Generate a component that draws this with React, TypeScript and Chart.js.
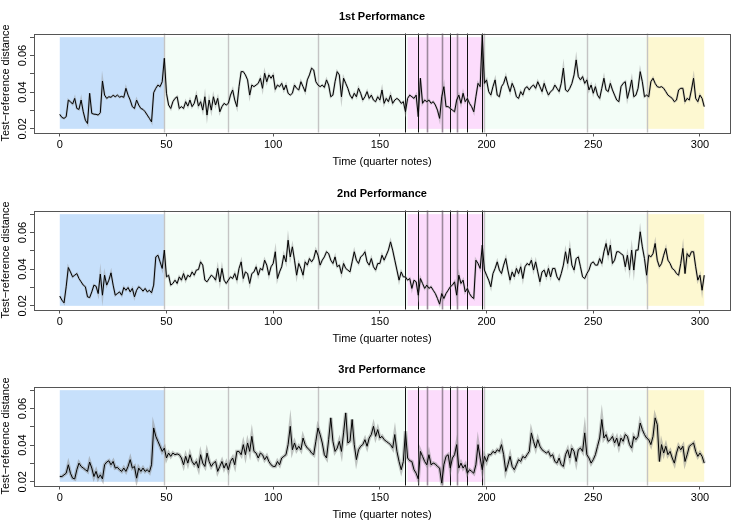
import React, { useEffect, useRef } from "react";
import { Chart, registerables } from "chart.js";

Chart.register(...registerables);

const TITLES = ["1st Performance", "2nd Performance", "3rd Performance"];
const X_LABEL = "Time (quarter notes)";
const Y_LABEL = "Test\u2212reference distance";
const X_TICKS = [0, 50, 100, 150, 200, 250, 300];
const Y_TICKS = [0.02, 0.03, 0.04, 0.05, 0.06, 0.07];
const Y_TICK_LABELS = ["0.02", "", "0.04", "", "0.06", ""];
const X_MIN = -12.08;
const X_MAX = 314.08;
const Y_MIN = 0.018;
const Y_MAX = 0.072;

// shaded sections (time in quarter notes)
const REGION_FROM = [0, 49, 163, 275];
const REGION_TO = [49, 275, 199, 302];
const REGION_COLORS = ["#c7e0fb", "#f3fdf7", "#fcdcfc", "#fdf8d1"];
const REGION_LOW = 0.02;
const REGION_HIGH = 0.07;
const SECTION_LINES = [49, 79, 121, 199, 247, 275];
const PHRASE_LINES_DARK = [162, 168, 183, 191, 198];
const PHRASE_LINES_MID = [172, 179, 186];

const perf1 = [
  0.0279, 0.0262, 0.0257, 0.0266, 0.0357, 0.0348, 0.0335, 0.0366, 0.0311, 0.0306,
  0.0357, 0.0293, 0.0247, 0.0229, 0.0394, 0.0284, 0.0280, 0.0279, 0.0275, 0.0288,
  0.0461, 0.0384, 0.0366, 0.0375, 0.0372, 0.0383, 0.0375, 0.0384, 0.0373, 0.0377,
  0.0372, 0.0421, 0.0384, 0.0357, 0.0321, 0.0311, 0.0357, 0.0330, 0.0311, 0.0306,
  0.0293, 0.0275, 0.0257, 0.0238, 0.0397, 0.0421, 0.0439, 0.0430, 0.0457, 0.0585,
  0.0394, 0.0330, 0.0311, 0.0348, 0.0366, 0.0375, 0.0311, 0.0321, 0.0311, 0.0348,
  0.0324, 0.0357, 0.0321, 0.0339, 0.0384, 0.0324, 0.0348, 0.0302, 0.0375, 0.0275,
  0.0357, 0.0302, 0.0375, 0.0330, 0.0366, 0.0293, 0.0321, 0.0339, 0.0330, 0.0339,
  0.0384, 0.0412, 0.0357, 0.0321, 0.0430, 0.0512, 0.0512, 0.0494, 0.0467, 0.0384,
  0.0439, 0.0430, 0.0439, 0.0448, 0.0476, 0.0421, 0.0503, 0.0457, 0.0494, 0.0476,
  0.0494, 0.0415, 0.0439, 0.0430, 0.0448, 0.0412, 0.0439, 0.0394, 0.0384, 0.0394,
  0.0439, 0.0421, 0.0412, 0.0457, 0.0430, 0.0403, 0.0467, 0.0494, 0.0531, 0.0521,
  0.0457, 0.0439, 0.0430, 0.0439, 0.0426, 0.0467, 0.0439, 0.0375, 0.0384, 0.0457,
  0.0512, 0.0494, 0.0375, 0.0476, 0.0448, 0.0421, 0.0384, 0.0366, 0.0394, 0.0375,
  0.0421, 0.0394, 0.0357, 0.0375, 0.0403, 0.0366, 0.0384, 0.0357, 0.0348, 0.0375,
  0.0357, 0.0412, 0.0339, 0.0366, 0.0348, 0.0384, 0.0339, 0.0357, 0.0366, 0.0357,
  0.0339, 0.0348, 0.0293, 0.0366, 0.0384, 0.0375, 0.0366, 0.0384, 0.0266, 0.0476,
  0.0339, 0.0357, 0.0348, 0.0357, 0.0339, 0.0348, 0.0330, 0.0302, 0.0257, 0.0375,
  0.0430, 0.0321, 0.0321, 0.0311, 0.0302, 0.0293, 0.0357, 0.0384, 0.0339, 0.0394,
  0.0348, 0.0366, 0.0339, 0.0321, 0.0293, 0.0375, 0.0448, 0.0430, 0.0712, 0.0448,
  0.0467, 0.0403, 0.0384, 0.0430, 0.0467, 0.0384, 0.0375, 0.0430, 0.0448, 0.0485,
  0.0439, 0.0403, 0.0448, 0.0421, 0.0375, 0.0366, 0.0403, 0.0384, 0.0421, 0.0430,
  0.0412, 0.0430, 0.0439, 0.0421, 0.0457, 0.0430, 0.0403, 0.0448, 0.0412, 0.0384,
  0.0403, 0.0412, 0.0439, 0.0421, 0.0403, 0.0448, 0.0531, 0.0412, 0.0403, 0.0421,
  0.0448, 0.0494, 0.0576, 0.0485, 0.0467, 0.0485, 0.0448, 0.0467, 0.0412, 0.0439,
  0.0394, 0.0430, 0.0384, 0.0366, 0.0421, 0.0476, 0.0412, 0.0403, 0.0448, 0.0412,
  0.0384, 0.0357, 0.0348, 0.0430, 0.0448, 0.0457, 0.0366, 0.0412, 0.0467, 0.0375,
  0.0384, 0.0421, 0.0512, 0.0457, 0.0375, 0.0384, 0.0375, 0.0457, 0.0476, 0.0448,
  0.0430, 0.0426, 0.0430, 0.0421, 0.0403, 0.0384, 0.0375, 0.0366, 0.0348, 0.0357,
  0.0412, 0.0421, 0.0421, 0.0348, 0.0366, 0.0357, 0.0412, 0.0476, 0.0366, 0.0348,
  0.0384, 0.0366, 0.0321,
];

const perf2 = [
  0.0253, 0.0231, 0.0216, 0.0304, 0.0409, 0.0385, 0.0358, 0.0367, 0.0376, 0.0349,
  0.0331, 0.0313, 0.0304, 0.0249, 0.0245, 0.0276, 0.0313, 0.0307, 0.0267, 0.0373,
  0.0258, 0.0367, 0.0313, 0.0340, 0.0380, 0.0313, 0.0258, 0.0267, 0.0276, 0.0258,
  0.0300, 0.0285, 0.0300, 0.0276, 0.0295, 0.0249, 0.0285, 0.0304, 0.0295, 0.0280,
  0.0295, 0.0276, 0.0285, 0.0271, 0.0313, 0.0467, 0.0476, 0.0440, 0.0404, 0.0504,
  0.0358, 0.0367, 0.0313, 0.0322, 0.0340, 0.0322, 0.0358, 0.0340, 0.0376, 0.0340,
  0.0367, 0.0358, 0.0385, 0.0367, 0.0395, 0.0398, 0.0440, 0.0422, 0.0340, 0.0331,
  0.0349, 0.0367, 0.0358, 0.0340, 0.0404, 0.0331, 0.0404, 0.0340, 0.0322, 0.0340,
  0.0358, 0.0349, 0.0376, 0.0340, 0.0404, 0.0440, 0.0349, 0.0385, 0.0376, 0.0322,
  0.0376, 0.0385, 0.0413, 0.0367, 0.0404, 0.0395, 0.0449, 0.0422, 0.0367, 0.0413,
  0.0431, 0.0495, 0.0349, 0.0385, 0.0413, 0.0476, 0.0440, 0.0558, 0.0467, 0.0522,
  0.0449, 0.0367, 0.0431, 0.0404, 0.0367, 0.0440, 0.0422, 0.0458, 0.0440, 0.0458,
  0.0504, 0.0476, 0.0422, 0.0449, 0.0467, 0.0495, 0.0485, 0.0449, 0.0431, 0.0467,
  0.0413, 0.0422, 0.0376, 0.0431, 0.0404, 0.0395, 0.0385, 0.0440, 0.0495, 0.0449,
  0.0431, 0.0467, 0.0476, 0.0495, 0.0440, 0.0422, 0.0458, 0.0413, 0.0395, 0.0431,
  0.0431, 0.0476, 0.0449, 0.0476, 0.0504, 0.0549, 0.0504, 0.0449, 0.0395, 0.0340,
  0.0385, 0.0358, 0.0358, 0.0340, 0.0349, 0.0295, 0.0340, 0.0331, 0.0258, 0.0349,
  0.0322, 0.0295, 0.0313, 0.0295, 0.0304, 0.0285, 0.0267, 0.0240, 0.0209, 0.0267,
  0.0240, 0.0267, 0.0285, 0.0304, 0.0313, 0.0331, 0.0258, 0.0367, 0.0322, 0.0340,
  0.0276, 0.0295, 0.0267, 0.0249, 0.0240, 0.0449, 0.0431, 0.0404, 0.0531, 0.0395,
  0.0367, 0.0340, 0.0304, 0.0376, 0.0404, 0.0440, 0.0395, 0.0376, 0.0422, 0.0458,
  0.0395, 0.0340, 0.0385, 0.0358, 0.0404, 0.0376, 0.0413, 0.0349, 0.0413, 0.0431,
  0.0422, 0.0449, 0.0395, 0.0440, 0.0385, 0.0331, 0.0385, 0.0395, 0.0358, 0.0404,
  0.0358, 0.0404, 0.0404, 0.0358, 0.0340, 0.0376, 0.0422, 0.0495, 0.0431, 0.0513,
  0.0422, 0.0395, 0.0458, 0.0467, 0.0413, 0.0358, 0.0349, 0.0376, 0.0395, 0.0431,
  0.0440, 0.0422, 0.0422, 0.0458, 0.0431, 0.0495, 0.0540, 0.0476, 0.0531, 0.0431,
  0.0449, 0.0495, 0.0495, 0.0485, 0.0476, 0.0413, 0.0476, 0.0395, 0.0504, 0.0395,
  0.0504, 0.0504, 0.0604, 0.0522, 0.0458, 0.0367, 0.0476, 0.0467, 0.0485, 0.0540,
  0.0449, 0.0413, 0.0431, 0.0476, 0.0513, 0.0449, 0.0431, 0.0404, 0.0395, 0.0376,
  0.0367, 0.0431, 0.0513, 0.0376, 0.0485, 0.0467, 0.0495, 0.0495, 0.0413, 0.0340,
  0.0367, 0.0285, 0.0367,
];

const perf3 = [
  0.0229, 0.0229, 0.0238, 0.0247, 0.0293, 0.0247, 0.0220, 0.0216, 0.0266, 0.0302,
  0.0284, 0.0275, 0.0266, 0.0257, 0.0308, 0.0275, 0.0229, 0.0257, 0.0220, 0.0238,
  0.0216, 0.0293, 0.0308, 0.0315, 0.0293, 0.0311, 0.0275, 0.0279, 0.0266, 0.0257,
  0.0275, 0.0257, 0.0284, 0.0321, 0.0275, 0.0284, 0.0220, 0.0275, 0.0257, 0.0275,
  0.0257, 0.0266, 0.0253, 0.0293, 0.0494, 0.0448, 0.0421, 0.0394, 0.0366, 0.0384,
  0.0330, 0.0357, 0.0339, 0.0357, 0.0348, 0.0352, 0.0348, 0.0330, 0.0293, 0.0339,
  0.0302, 0.0348, 0.0311, 0.0293, 0.0311, 0.0275, 0.0348, 0.0302, 0.0284, 0.0357,
  0.0311, 0.0284, 0.0302, 0.0311, 0.0257, 0.0284, 0.0311, 0.0275, 0.0302, 0.0266,
  0.0311, 0.0330, 0.0293, 0.0366, 0.0366, 0.0348, 0.0403, 0.0348, 0.0412, 0.0366,
  0.0448, 0.0366, 0.0357, 0.0330, 0.0357, 0.0348, 0.0321, 0.0339, 0.0311, 0.0293,
  0.0284, 0.0284, 0.0311, 0.0293, 0.0330, 0.0339, 0.0348, 0.0403, 0.0503, 0.0375,
  0.0412, 0.0375, 0.0394, 0.0375, 0.0439, 0.0403, 0.0384, 0.0375, 0.0357, 0.0348,
  0.0421, 0.0494, 0.0458, 0.0412, 0.0348, 0.0330, 0.0430, 0.0549, 0.0421, 0.0366,
  0.0384, 0.0421, 0.0366, 0.0467, 0.0576, 0.0412, 0.0421, 0.0540, 0.0403, 0.0321,
  0.0375, 0.0394, 0.0403, 0.0430, 0.0394, 0.0439, 0.0458, 0.0503, 0.0448, 0.0485,
  0.0439, 0.0448, 0.0430, 0.0421, 0.0412, 0.0403, 0.0384, 0.0458, 0.0366, 0.0311,
  0.0266, 0.0311, 0.0476, 0.0330, 0.0315, 0.0311, 0.0266, 0.0247, 0.0216, 0.0366,
  0.0339, 0.0311, 0.0293, 0.0348, 0.0293, 0.0302, 0.0297, 0.0284, 0.0275, 0.0193,
  0.0293, 0.0339, 0.0348, 0.0275, 0.0330, 0.0348, 0.0403, 0.0275, 0.0302, 0.0275,
  0.0293, 0.0247, 0.0266, 0.0257, 0.0247, 0.0293, 0.0403, 0.0330, 0.0266, 0.0339,
  0.0311, 0.0348, 0.0348, 0.0366, 0.0357, 0.0375, 0.0366, 0.0403, 0.0348, 0.0257,
  0.0293, 0.0339, 0.0284, 0.0266, 0.0293, 0.0321, 0.0311, 0.0339, 0.0330, 0.0348,
  0.0366, 0.0467, 0.0421, 0.0384, 0.0430, 0.0394, 0.0375, 0.0366, 0.0357, 0.0366,
  0.0339, 0.0348, 0.0311, 0.0302, 0.0330, 0.0293, 0.0284, 0.0348, 0.0375, 0.0330,
  0.0384, 0.0366, 0.0311, 0.0375, 0.0384, 0.0366, 0.0467, 0.0348, 0.0330, 0.0302,
  0.0321, 0.0348, 0.0394, 0.0439, 0.0540, 0.0439, 0.0458, 0.0421, 0.0430, 0.0448,
  0.0412, 0.0439, 0.0394, 0.0439, 0.0421, 0.0458, 0.0448, 0.0403, 0.0384, 0.0448,
  0.0430, 0.0448, 0.0521, 0.0485, 0.0458, 0.0439, 0.0430, 0.0403, 0.0448, 0.0549,
  0.0512, 0.0311, 0.0403, 0.0357, 0.0394, 0.0348, 0.0366, 0.0330, 0.0302, 0.0357,
  0.0394, 0.0375, 0.0394, 0.0311, 0.0348, 0.0394, 0.0403, 0.0412, 0.0366, 0.0339,
  0.0357, 0.0339, 0.0302,
];

const SERIES = [perf1, perf2, perf3];

const FONT = "'Liberation Sans', Arial, Helvetica, sans-serif";

const decorPlugin = {
  id: "decor",
  beforeDatasetsDraw(chart: any) {
    const { ctx, chartArea: a, scales } = chart;
    const x = scales.x;
    const y = scales.y;
    ctx.save();
    const yTop = y.getPixelForValue(REGION_HIGH);
    const yBot = y.getPixelForValue(REGION_LOW);
    for (let i = 0; i < REGION_FROM.length; i++) {
      const x0 = x.getPixelForValue(REGION_FROM[i]);
      const x1 = x.getPixelForValue(REGION_TO[i]);
      ctx.fillStyle = REGION_COLORS[i];
      ctx.fillRect(x0, yTop, x1 - x0, yBot - yTop);
    }
    const vlines = (vals: number[], color: string, w: number) => {
      ctx.strokeStyle = color;
      ctx.lineWidth = w;
      for (const v of vals) {
        const px = Math.round(x.getPixelForValue(v)) + 0.5;
        ctx.beginPath();
        ctx.moveTo(px, a.top);
        ctx.lineTo(px, a.bottom);
        ctx.stroke();
      }
    };
    vlines(SECTION_LINES, "#c4c4c4", 1.4);
    vlines(PHRASE_LINES_MID, "#9b889b", 1.6);
    vlines(PHRASE_LINES_DARK, "#111111", 1);
    ctx.restore();
  },
  afterDraw(chart: any, _args: any, opts: any) {
    const { ctx, chartArea: a, scales } = chart;
    const y = scales.y;
    ctx.save();
    ctx.strokeStyle = "#555555";
    ctx.lineWidth = 1;
    ctx.strokeRect(
      Math.round(a.left) + 0.5,
      Math.round(a.top) + 0.5,
      Math.round(a.right) - Math.round(a.left),
      Math.round(a.bottom) - Math.round(a.top)
    );
    ctx.fillStyle = "#000";
    ctx.font = `bold 11px ${FONT}`;
    ctx.textAlign = "center";
    ctx.textBaseline = "middle";
    ctx.fillText(opts.title, (a.left + a.right) / 2, 17);
    ctx.font = `11px ${FONT}`;
    ctx.fillText(X_LABEL, (a.left + a.right) / 2, 162);
    for (let i = 0; i < Y_TICKS.length; i++) {
      if (!Y_TICK_LABELS[i]) continue;
      ctx.save();
      ctx.translate(22.5, y.getPixelForValue(Y_TICKS[i]));
      ctx.rotate(-Math.PI / 2);
      ctx.fillText(Y_TICK_LABELS[i], 0, 0);
      ctx.restore();
    }
    ctx.save();
    ctx.translate(5.5, (a.top + a.bottom) / 2);
    ctx.rotate(-Math.PI / 2);
    ctx.fillText(Y_LABEL, 0, 0);
    ctx.restore();
    ctx.restore();
  },
};

function Panel({ index, top }: { index: number; top: number }) {
  const ref = useRef<HTMLCanvasElement>(null);
  useEffect(() => {
    const values = SERIES[index];
    const pts = values.map((v, i) => ({ x: i, y: v }));
    const chart = new Chart(ref.current as HTMLCanvasElement, {
      type: "line",
      data: {
        datasets: [
          {
            data: pts,
            borderColor: "#000000",
            borderWidth: 1,
            pointRadius: 0,
            tension: 0,
          },
          {
            data: pts,
            borderColor: index === 2 ? "rgba(140,140,140,0.5)" : "rgba(150,150,150,0.45)",
            borderWidth: index === 2 ? 3.5 : 2.3,
            pointRadius: 0,
            tension: 0,
          },
        ],
      },
      plugins: [decorPlugin],
      options: {
        animation: false,
        responsive: false,
        devicePixelRatio: 1,
        events: [],
        layout: { padding: { top: 33.5, right: 17, bottom: 0, left: 0 } },
        plugins: {
          legend: { display: false },
          tooltip: { enabled: false },
          title: { display: false },
          decor: { title: TITLES[index] },
        } as any,
        scales: {
          x: {
            type: "linear",
            min: X_MIN,
            max: X_MAX,
            afterBuildTicks: (s: any) => {
              s.ticks = X_TICKS.map((v) => ({ value: v }));
            },
            afterFit: (s: any) => {
              s.height = 43.5;
            },
            grid: {
              drawOnChartArea: false,
              drawTicks: true,
              tickLength: 4,
              color: "#555555",
            },
            border: { display: false },
            ticks: {
              color: "#000",
              font: { family: FONT, size: 11 },
              padding: 2,
              maxRotation: 0,
              autoSkip: false,
              callback: (v: any) => String(v),
            },
          },
          y: {
            type: "linear",
            min: Y_MIN,
            max: Y_MAX,
            afterBuildTicks: (s: any) => {
              s.ticks = Y_TICKS.map((v) => ({ value: v }));
            },
            afterFit: (s: any) => {
              s.width = 34;
            },
            grid: {
              drawOnChartArea: false,
              drawTicks: true,
              tickLength: 4,
              color: "#555555",
            },
            border: { display: false },
            ticks: { display: false },
          },
        },
      } as any,
    });
    return () => chart.destroy();
  }, [index]);
  return (
    <canvas
      ref={ref}
      width={747}
      height={176}
      style={{ position: "absolute", left: 0, top, width: 747, height: 176 }}
    />
  );
}

export default function App() {
  return (
    <div
      style={{
        position: "absolute",
        left: 0,
        top: 0,
        width: 747,
        height: 529,
        background: "#ffffff",
        overflow: "hidden",
      }}
    >
      <Panel index={0} top={0} />
      <Panel index={1} top={177} />
      <Panel index={2} top={353} />
    </div>
  );
}
